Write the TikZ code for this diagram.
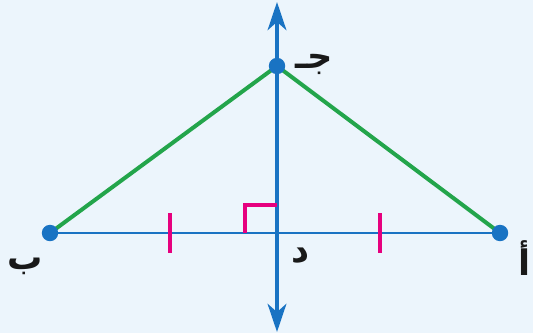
\documentclass[tikz,border=0pt]{standalone}
\usepackage{fontspec}
\usepackage{xcolor}
\newfontfamily\arabicfont[Script=Arabic]{DejaVu Sans}
\TeXXeTstate=1
\usetikzlibrary{arrows.meta}
\definecolor{bgblue}{RGB}{236,245,252}
\definecolor{axisblue}{RGB}{25,115,195}
\definecolor{sidegreen}{RGB}{35,165,75}
\definecolor{markpink}{RGB}{230,0,126}
\tikzset{
  lbl/.style={font=\arabicfont\bfseries\fontsize{30}{32}\selectfont,text=black!90},
  dot/.style={circle,fill=axisblue,inner sep=0pt,minimum size=14pt}
}

\begin{document}
\begin{tikzpicture}[x=0.03cm,y=-0.03cm,>={Stealth[length=24pt,width=16pt,inset=7pt]}]
  \fill[bgblue] (0,0) rectangle (533,333);
  \useasboundingbox (0,0) rectangle (533,333);
  % points
  \coordinate (A) at (500,233);
  \coordinate (B) at (50,233);
  \coordinate (C) at (277,66);
  \coordinate (D) at (277,233);
  \coordinate (top) at (277,2);
  \coordinate (bot) at (277,332);
  % base and axis
  \draw[axisblue,line width=2.5pt] (B)--(A);
  \draw[axisblue,line width=3.3pt,<->] (bot)--(top);
  % sides
  \draw[sidegreen,line width=3.4pt] (B)--(C)--(A);
  % equal ticks
  \foreach \x in {170,380}{
    \draw[markpink,line width=3.3pt] (\x,213)--(\x,253);
  }
  % right angle
  \draw[markpink,line width=3.3pt] (245,233)--(245,205)--(277,205);
  \node[dot] (a) at (A) {};
  \node[dot] (b) at (B) {};
  \node[dot] (c) at (C) {};
  % labels
  \node[lbl] (lb) at (25,266) {\beginR ب\endR};
  \node[lbl] (la) at (525,258) {\beginR أ\endR};
  \node[lbl] (lc) at (314,64) {\beginR جـ\endR};
  \node[lbl] (ld) at (301,256) {\beginR د\endR};
\end{tikzpicture}
\end{document}
